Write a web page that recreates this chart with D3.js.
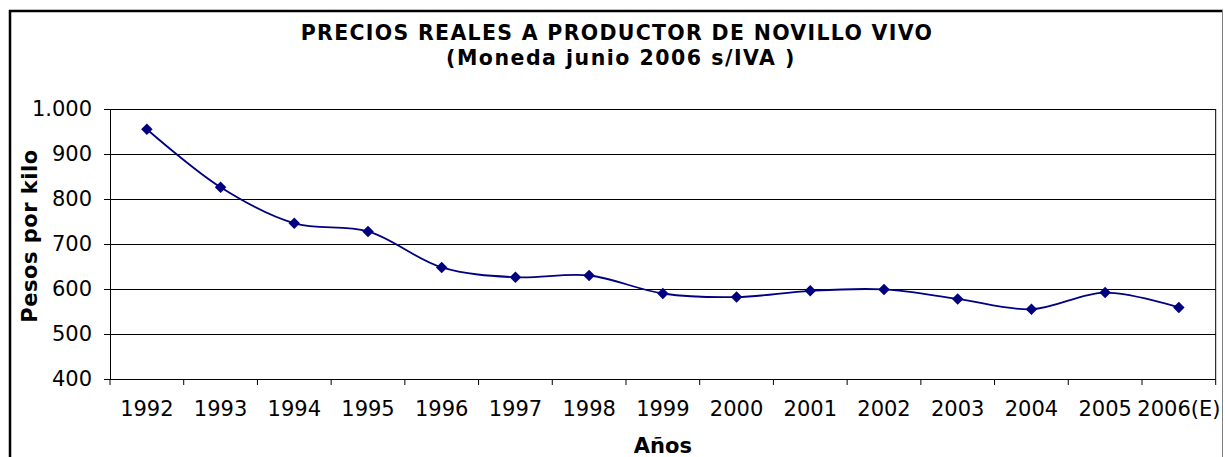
<!DOCTYPE html>
<html>
<head>
<meta charset="utf-8">
<script src="https://cdn.jsdelivr.net/npm/d3@7"></script>
<style>
  body { margin: 0; background: #fff; }
  svg { display: block; font-family: "DejaVu Sans", Verdana, sans-serif; }
</style>
</head>
<body>
<svg id="svg" width="1225" height="457"></svg>
<script>
// datos
var years = ["1992", "1993", "1994", "1995", "1996", "1997", "1998", "1999",
             "2000", "2001", "2002", "2003", "2004", "2005", "2006(E)"];
var precios = [955, 826, 746, 728, 648, 626, 630, 590, 582, 596, 599, 578, 555, 592, 559];
var yTicks = [400, 500, 600, 700, 800, 900, 1000];
var titulo = "PRECIOS REALES A PRODUCTOR DE NOVILLO VIVO";
var subtitulo = "(Moneda junio 2006 s/IVA )";

window.onload = function() {

    var svgWidth = +document.getElementById('svg').getAttribute('width');
    var svgHeight = +document.getElementById('svg').getAttribute('height');

    var left = 110, right = 1215.7, top = 109, bottom = 379;
    var color = "#000080";

    var svg = d3.select("svg");

    svg.append("rect")
        .attr("width", svgWidth)
        .attr("height", svgHeight)
        .attr("fill", "#fff");

    // marco exterior
    svg.append("line").attr("x1", 10).attr("x2", 10).attr("y1", 10).attr("y2", svgHeight)
        .attr("stroke", "#000").attr("stroke-width", 2.5);
    svg.append("line").attr("x1", 9).attr("x2", 1223).attr("y1", 11).attr("y2", 11)
        .attr("stroke", "#000").attr("stroke-width", 2.5);
    svg.append("line").attr("x1", 1222.5).attr("x2", 1222.5).attr("y1", 10).attr("y2", svgHeight)
        .attr("stroke", "#808080").attr("stroke-width", 1);

    var locale = d3.formatLocale({decimal: ",", thousands: ".", grouping: [3], currency: ["$", ""]});
    var fmt = locale.format(",d");

    var x = d3.scaleBand()
        .domain(years)
        .range([left, right]);

    var y = d3.scaleLinear()
        .domain([400, 1000])
        .range([bottom, top]);

    // lineas de division
    svg.append("g")
        .selectAll("line")
        .data(yTicks.slice(1))
        .enter().append("line")
        .attr("x1", left)
        .attr("x2", right)
        .attr("y1", function(d) { return Math.round(y(d)) + 0.5; })
        .attr("y2", function(d) { return Math.round(y(d)) + 0.5; })
        .attr("stroke", "#000")
        .attr("stroke-width", 1);

    svg.append("line")
        .attr("x1", right).attr("x2", right)
        .attr("y1", top).attr("y2", bottom + 6)
        .attr("stroke", "#000");

    var yAxis = svg.append("g")
        .attr("transform", "translate(" + left + ",0)")
        .call(d3.axisLeft(y).tickValues(yTicks).tickFormat(fmt).tickSize(6).tickPadding(12));

    var xAxis = svg.append("g")
        .attr("transform", "translate(0," + bottom + ")")
        .call(d3.axisBottom(x).tickSize(0).tickPadding(22));

    // marcas del eje x en los bordes de las categorias
    svg.append("g")
        .selectAll("line")
        .data(years)
        .enter().append("line")
        .attr("x1", function(d) { return x(d); })
        .attr("x2", function(d) { return x(d); })
        .attr("y1", bottom)
        .attr("y2", bottom + 6)
        .attr("stroke", "#000");

    [yAxis, xAxis].forEach(function(g) {
        g.select(".domain").attr("stroke", "#000").attr("stroke-width", 1);
        g.selectAll(".tick line").attr("stroke", "#000");
        g.selectAll("text")
            .attr("font-family", "DejaVu Sans, Verdana, sans-serif")
            .attr("font-size", 21)
            .attr("fill", "#000");
    });
    xAxis.select(".domain").attr("d", "M" + left + ",0.5H" + right);

    // linea suavizada
    var line = d3.line()
        .x(function(d, i) { return x(years[i]) + x.bandwidth() / 2; })
        .y(function(d) { return y(d); })
        .curve(d3.curveCatmullRom.alpha(0.5));

    svg.append("path")
        .datum(precios)
        .attr("d", line)
        .attr("fill", "none")
        .attr("stroke", color)
        .attr("stroke-width", 1.8);

    // rombos: cuadrado girado 45 grados
    svg.append("g")
        .selectAll("path")
        .data(precios)
        .enter().append("path")
        .attr("d", d3.symbol().type(d3.symbolSquare).size(66))
        .attr("transform", function(d, i) {
            return "translate(" + (x(years[i]) + x.bandwidth() / 2) + "," + y(d) + ") rotate(45)";
        })
        .attr("fill", color);

    // titulos
    svg.append("text")
        .attr("x", 617)
        .attr("y", 40)
        .attr("text-anchor", "middle")
        .attr("font-size", 20.5)
        .attr("font-weight", "bold")
        .attr("letter-spacing", 1.3)
        .text(titulo);

    svg.append("text")
        .attr("x", 621)
        .attr("y", 65)
        .attr("text-anchor", "middle")
        .attr("font-size", 20.5)
        .attr("font-weight", "bold")
        .attr("letter-spacing", 1.5)
        .text(subtitulo);

    svg.append("text")
        .attr("x", (left + right) / 2)
        .attr("y", 453)
        .attr("text-anchor", "middle")
        .attr("font-size", 21)
        .attr("font-weight", "bold")
        .text("Años");

    svg.append("text")
        .attr("transform", "translate(37,236) rotate(-90)")
        .attr("text-anchor", "middle")
        .attr("font-size", 21)
        .attr("font-weight", "bold")
        .attr("letter-spacing", 0.5)
        .text("Pesos por kilo");
}
</script>
</body>
</html>
